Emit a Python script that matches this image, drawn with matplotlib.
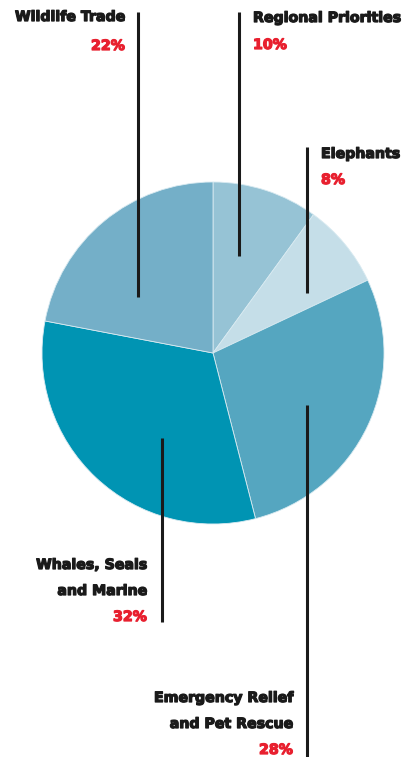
import matplotlib
matplotlib.use("Agg")
import matplotlib.pyplot as plt
import matplotlib.patheffects as pe

categories = ["Regional Priorities", "Elephants", "Emergency Relief\nand Pet Rescue",
              "Whales, Seals\nand Marine", "Wildlife Trade"]
values = [10, 8, 28, 32, 22]
pct_labels = ["10%", "8%", "28%", "32%", "22%"]
colors = ["#96c3d5", "#c5dee8", "#55a6c0", "#0094b3", "#74afc8"]

W, H = 408, 757
fig = plt.figure(figsize=(W / 100, H / 100), dpi=100)
ax = fig.add_axes([0, 0, 1, 1])

cx, cy, r = 213, H - 353, 171
ax.pie(values, colors=colors, startangle=90, counterclock=False,
       center=(cx, cy), radius=r, frame=True,
       wedgeprops=dict(linewidth=0.6, edgecolor="#d8eaf1"))
ax.set_xlim(0, W)
ax.set_ylim(0, H)
ax.set_aspect("equal")
ax.axis("off")

fam = ["DejaVu Sans"]
fs = 10.2
tcol, pcol = "#1a1a1a", "#e8202f"
tprops = dict(family=fam, fontweight="heavy", fontsize=fs, color=tcol,
              path_effects=[pe.withStroke(linewidth=0.9, foreground=tcol)])
pprops = dict(family=fam, fontweight="heavy", fontsize=fs, color=pcol,
              path_effects=[pe.withStroke(linewidth=0.9, foreground=pcol)])
lc = "#1a1a1a"
lw = 2.2

def Y(py):
    return H - py

lines = [(138, 12, 297), (239, 12, 256), (307, 147, 293), (162, 438, 622), (307, 405, 757)]
for x, y0, y1 in lines:
    ax.plot([x, x], [Y(y0), Y(y1)], color=lc, lw=lw, solid_capstyle="butt")

ax.text(125, Y(17), "Wildlife Trade", ha="right", va="center", **tprops)
ax.text(125, Y(46), pct_labels[4], ha="right", va="center", **pprops)

ax.text(253, Y(18), "Regional Priorities", ha="left", va="center", **tprops)
ax.text(253, Y(45), pct_labels[0], ha="left", va="center", **pprops)

ax.text(321, Y(154), "Elephants", ha="left", va="center", **tprops)
ax.text(321, Y(180), pct_labels[1], ha="left", va="center", **pprops)

ax.text(147, Y(565), "Whales, Seals", ha="right", va="center", **tprops)
ax.text(147, Y(591), "and Marine", ha="right", va="center", **tprops)
ax.text(147, Y(617), pct_labels[3], ha="right", va="center", **pprops)

ax.text(293, Y(698), "Emergency Relief", ha="right", va="center", **tprops)
ax.text(293, Y(724), "and Pet Rescue", ha="right", va="center", **tprops)
ax.text(293, Y(750), pct_labels[2], ha="right", va="center", **pprops)

fig.savefig("out.png", dpi=100, facecolor="white")
